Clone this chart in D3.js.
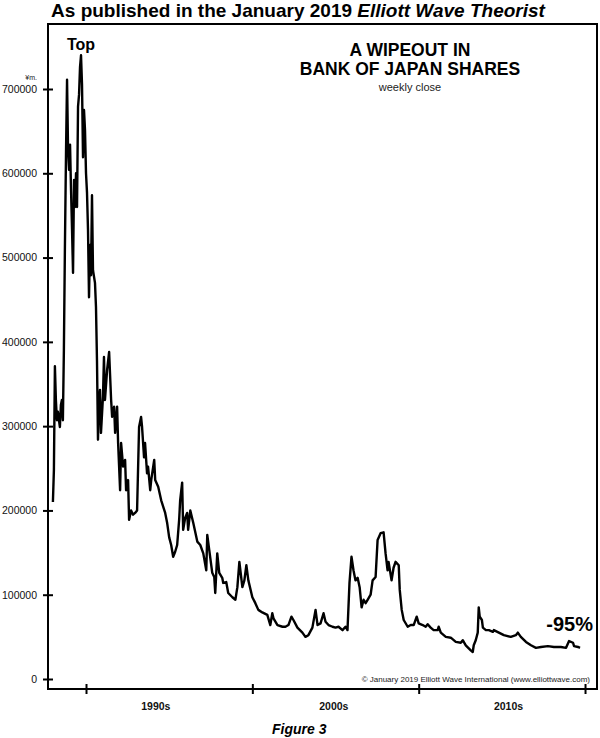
<!DOCTYPE html>
<html>
<head>
<meta charset="utf-8">
<script src="https://cdn.jsdelivr.net/npm/d3@7"></script>
<style>
  html, body { margin: 0; padding: 0; background: #fff; }
  svg { display: block; font-family: "Liberation Sans", Arial, sans-serif; }
</style>
</head>
<body>
<svg id="chart" width="600" height="738"></svg>
<script>
// ---- data (weekly close, yen per share) ----
const years = [
  1987.01,1987.07,1987.13,1987.19,1987.25,1987.31,1987.43,1987.49,1987.55,1987.61,
  1987.67,1987.73,1987.80,1987.86,1987.92,1987.98,1988.04,1988.10,1988.16,1988.22,
  1988.28,1988.34,1988.40,1988.46,1988.52,1988.58,1988.64,1988.70,1988.76,1988.82,
  1988.88,1988.94,1989.00,1989.06,1989.12,1989.18,1989.24,1989.30,1989.36,1989.42,
  1989.54,1989.60,1989.66,1989.72,1989.78,1989.84,1989.90,1990.02,1990.08,1990.14,
  1990.27,1990.39,1990.51,1990.57,1990.69,1990.75,1990.87,1990.93,1991.05,1991.11,
  1991.23,1991.35,1991.41,1991.53,1991.59,1991.71,1991.83,1991.95,1992.07,1992.19,
  1992.31,1992.37,1992.49,1992.55,1992.67,1992.73,1992.86,1992.92,1993.10,1993.16,
  1993.34,1993.52,1993.76,1993.88,1994.00,1994.12,1994.24,1994.36,1994.48,1994.60,
  1994.66,1994.78,1994.84,1994.96,1995.08,1995.14,1995.27,1995.45,1995.69,1995.87,
  1996.05,1996.23,1996.29,1996.41,1996.59,1996.71,1996.77,1996.89,1997.01,1997.19,
  1997.25,1997.43,1997.55,1997.80,1997.98,1998.10,1998.22,1998.40,1998.52,1998.64,
  1998.76,1999.00,1999.18,1999.36,1999.60,1999.90,2000.08,2000.20,2000.27,2000.51,
  2000.81,2000.99,2001.17,2001.35,2001.47,2001.71,2002.01,2002.19,2002.37,2002.61,
  2002.80,2002.92,2003.10,2003.28,2003.40,2003.58,2003.82,2004.00,2004.18,2004.42,
  2004.60,2004.72,2004.84,2004.96,2005.08,2005.20,2005.33,2005.45,2005.57,2005.69,
  2005.81,2005.93,2006.11,2006.23,2006.41,2006.53,2006.71,2006.89,2007.01,2007.13,
  2007.19,2007.37,2007.49,2007.61,2007.80,2007.86,2007.98,2008.10,2008.34,2008.52,
  2008.70,2008.88,2009.00,2009.24,2009.42,2009.54,2009.72,2009.90,2010.14,2010.20,
  2010.33,2010.63,2010.93,2011.23,2011.53,2011.65,2011.83,2012.13,2012.25,2012.31,
  2012.43,2012.55,2012.61,2012.67,2012.80,2012.86,2013.04,2013.22,2013.46,2013.52,
  2013.82,2014.12,2014.54,2014.84,2014.96,2015.14,2015.45,2015.75,2016.05,2016.35,
  2016.77,2017.13,2017.55,2017.86,2018.04,2018.28,2018.34,2018.58,2018.70
];
const prices = [
  210000,248000,371000,331000,307000,317000,299000,325000,331000,307000,
  390000,509000,628000,711000,628000,604000,634000,580000,533000,482000,
  592000,560000,600000,560000,679000,693000,726000,740000,705000,619000,
  675000,651000,600000,577000,533000,453000,515000,479000,574000,485000,
  470000,441000,378000,284000,331000,343000,292000,335000,382000,331000,
  367000,388000,331000,311000,323000,292000,323000,280000,224000,280000,
  252000,260000,224000,236000,189000,200000,195000,197000,200000,299000,
  311000,299000,263000,280000,244000,252000,224000,236000,260000,236000,
  228000,212000,197000,185000,168000,159000,145000,151000,159000,189000,
  212000,233000,177000,191000,197000,177000,200000,185000,163000,159000,
  149000,129000,171000,153000,126000,121000,102000,149000,126000,120000,
  114000,115000,102000,97000,94000,109000,139000,109000,117000,135000,
  117000,97000,90000,82000,79000,76000,64000,78000,72000,64000,
  62000,62000,64000,74000,70000,61000,55000,50000,52000,61000,
  82000,64000,66000,78000,68000,64000,62000,61000,62000,58000,
  62000,58000,114000,145000,129000,117000,120000,109000,85000,94000,
  90000,94000,100000,117000,121000,165000,173000,174000,149000,129000,
  139000,117000,132000,139000,135000,106000,82000,70000,62000,64000,
  64000,74000,66000,64000,62000,65000,61000,58000,58000,62000,
  55000,50000,49000,44000,43000,46000,40000,34000,32000,40000,
  46000,55000,85000,74000,70000,61000,58000,58000,56000,58000,
  55000,52000,50000,52000,55000,50000,44000,40000,37000,38000,
  39000,38000,38000,37000,45000,43000,39000,38000,37000
];
const yTicks = [0, 100000, 200000, 300000, 400000, 500000, 600000, 700000];
const xTicks = [1989, 1999, 2009, 2019];
const decadeLabels = ["1990s", "2000s", "2010s"];
const decadeLabelAt = [1993.2, 2003.9, 2014.4];

const data = years.map((t, i) => ({ t, v: prices[i] }));

// ---- layout ----
const svg = d3.select("#chart");
const frame = { left: 48, right: 597, top: 24, bottom: 689 };

const x = d3.scaleLinear().domain([1986.715, 2019.72]).range([frame.left, frame.right]);
const y = d3.scaleLinear().domain([0, 700000]).range([679, 89]);

// headline
const head = svg.append("text")
  .attr("x", 298).attr("y", 17)
  .attr("text-anchor", "middle")
  .attr("font-size", 19).attr("font-weight", "bold").attr("fill", "#000");
head.append("tspan").text("As published in the January 2019 ");
head.append("tspan").attr("font-style", "italic").text("Elliott Wave Theorist");

// frame
svg.append("rect")
  .attr("x", frame.left).attr("y", frame.top)
  .attr("width", frame.right - frame.left).attr("height", frame.bottom - frame.top)
  .attr("fill", "none").attr("stroke", "#000").attr("stroke-width", 2);

// y axis
const yAxis = svg.append("g")
  .attr("transform", `translate(${frame.left},0)`)
  .call(d3.axisLeft(y).tickValues(yTicks).tickFormat(d3.format("d"))
        .tickSizeInner(5).tickSizeOuter(0).tickPadding(6));
yAxis.select(".domain").remove();
yAxis.selectAll(".tick line").attr("x1", -5).attr("x2", 5)
  .attr("stroke", "#000").attr("stroke-width", 2);
yAxis.selectAll(".tick text")
  .attr("font-size", 10.5).attr("font-family", "Liberation Sans, Arial, sans-serif")
  .attr("fill", "#111");

// unit label
svg.append("text")
  .attr("x", 37).attr("y", y(700000) - 9)
  .attr("text-anchor", "end").attr("font-size", 7).attr("fill", "#222")
  .text("¥m.");

// x axis
const xAxis = svg.append("g")
  .attr("transform", `translate(0,${frame.bottom})`)
  .call(d3.axisBottom(x).tickValues(xTicks).tickFormat("").tickSizeInner(5).tickSizeOuter(0));
xAxis.select(".domain").remove();
xAxis.selectAll(".tick line").attr("y1", -5).attr("y2", 5)
  .attr("stroke", "#000").attr("stroke-width", 2);

svg.append("g").selectAll("text")
  .data(decadeLabels)
  .join("text")
  .attr("x", (d, i) => x(decadeLabelAt[i]))
  .attr("y", 710)
  .attr("text-anchor", "middle")
  .attr("font-size", 10.5).attr("font-weight", "bold").attr("fill", "#111")
  .text(d => d);

// line
const line = d3.line().x(d => x(d.t)).y(d => y(d.v));
svg.append("path")
  .datum(data)
  .attr("d", line)
  .attr("fill", "none").attr("stroke", "#000")
  .attr("stroke-width", 2.4).attr("stroke-linejoin", "round");

// chart titles
const titleX = 410;
svg.append("text").attr("x", titleX).attr("y", 56).attr("text-anchor", "middle")
  .attr("font-size", 17.5).attr("font-weight", "bold").text("A WIPEOUT IN");
svg.append("text").attr("x", titleX).attr("y", 75).attr("text-anchor", "middle")
  .attr("font-size", 17.5).attr("font-weight", "bold").text("BANK OF JAPAN SHARES");
svg.append("text").attr("x", titleX).attr("y", 91).attr("text-anchor", "middle")
  .attr("font-size", 11).attr("fill", "#222").text("weekly close");

// annotations
const peak = data.reduce((a, b) => (b.v > a.v ? b : a));
svg.append("text").attr("x", x(peak.t)).attr("y", 50).attr("text-anchor", "middle")
  .attr("font-size", 16).attr("font-weight", "bold").text("Top");

const last = data[data.length - 1];
svg.append("text").attr("x", 593).attr("y", y(last.v) - 17).attr("text-anchor", "end")
  .attr("font-size", 20).attr("font-weight", "bold").text("-95%");

svg.append("text").attr("x", 590).attr("y", 682).attr("text-anchor", "end")
  .attr("font-size", 8).attr("fill", "#222")
  .text("© January 2019 Elliott Wave International (www.elliottwave.com)");

// figure caption
svg.append("text").attr("x", 272).attr("y", 734)
  .attr("font-size", 14).attr("font-weight", "bold").attr("font-style", "italic")
  .text("Figure 3");
</script>
</body>
</html>
